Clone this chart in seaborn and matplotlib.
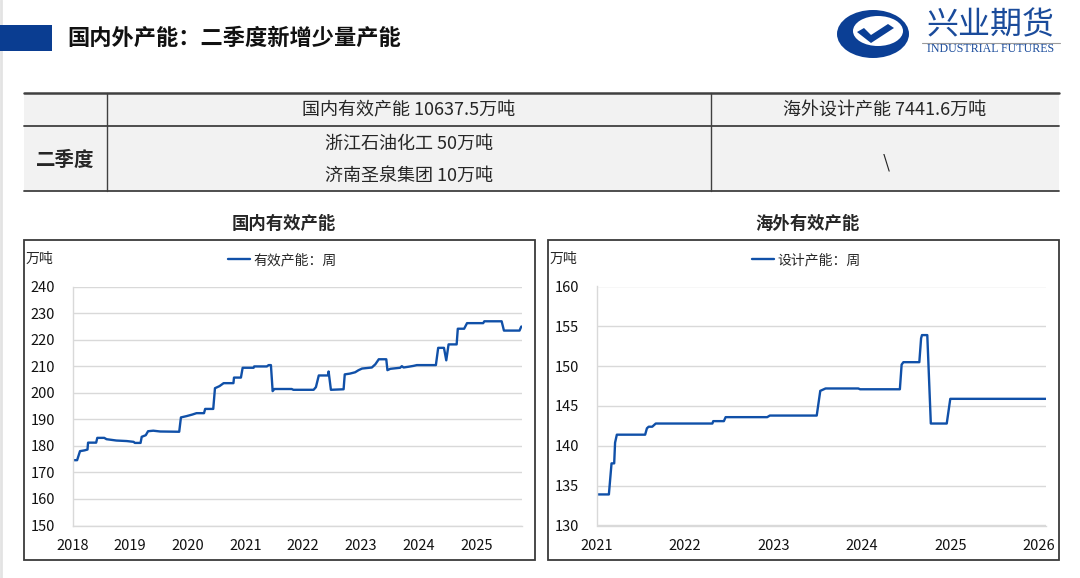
import matplotlib
matplotlib.use("Agg")
import numpy as np
import pandas as pd
import matplotlib.pyplot as plt
import seaborn as sns
from matplotlib.patches import Rectangle, Ellipse, Polygon
from matplotlib.lines import Line2D

# domestic effective capacity, weekly (万吨), x in decimal years
dom_t = [2018.00, 2018.08, 2018.13, 2018.21, 2018.26, 2018.27, 2018.41, 2018.43, 2018.55, 2018.59,
         2018.76, 2018.94, 2019.06, 2019.08, 2019.18, 2019.20, 2019.27, 2019.31, 2019.40, 2019.52,
         2019.85, 2019.88, 2019.98, 2020.08, 2020.15, 2020.28, 2020.30, 2020.44, 2020.47, 2020.55,
         2020.62, 2020.79, 2020.80, 2020.92, 2020.95, 2021.14, 2021.15, 2021.37, 2021.40, 2021.44,
         2021.47, 2021.50, 2021.80, 2021.83, 2022.18, 2022.22, 2022.27, 2022.43, 2022.44, 2022.48,
         2022.70, 2022.72, 2022.81, 2022.90, 2022.96, 2023.02, 2023.19, 2023.25, 2023.31, 2023.44,
         2023.46, 2023.51, 2023.68, 2023.71, 2023.74, 2023.83, 2023.91, 2023.97, 2024.30, 2024.34,
         2024.44, 2024.48, 2024.52, 2024.66, 2024.68, 2024.79, 2024.84, 2025.12, 2025.14, 2025.44,
         2025.48, 2025.75, 2025.78, 2025.80]
dom_v = [174.6, 174.6, 178.0, 178.3, 178.6, 181.2, 181.2, 183.0, 183.0, 182.5,
         182.0, 181.8, 181.5, 181.1, 181.1, 183.4, 184.0, 185.5, 185.7, 185.4,
         185.3, 190.7, 191.2, 191.8, 192.3, 192.3, 193.9, 193.9, 201.7, 202.5,
         203.6, 203.6, 205.7, 205.7, 209.4, 209.4, 209.9, 209.9, 210.4, 210.4,
         200.6, 201.4, 201.4, 201.1, 201.1, 202.1, 206.5, 206.5, 208.0, 201.1,
         201.3, 206.9, 207.2, 207.7, 208.5, 209.1, 209.5, 210.7, 212.6, 212.6,
         208.5, 209.0, 209.4, 210.0, 209.5, 209.8, 210.1, 210.4, 210.4, 216.9,
         216.9, 212.2, 218.2, 218.2, 224.1, 224.1, 226.2, 226.2, 226.9, 226.9,
         223.4, 223.4, 224.9, 224.9]

# overseas design capacity, weekly (万吨)
ovs_t = [2021.00, 2021.14, 2021.17, 2021.20, 2021.21, 2021.23, 2021.55, 2021.57, 2021.59, 2021.63,
         2021.67, 2022.31, 2022.32, 2022.44, 2022.46, 2022.93, 2022.96, 2023.49, 2023.53, 2023.59,
         2023.96, 2023.98, 2024.43, 2024.45, 2024.47, 2024.65, 2024.67, 2024.68, 2024.74, 2024.78,
         2024.96, 2025.00, 2026.08]
ovs_v = [133.9, 133.9, 137.8, 137.8, 140.4, 141.4, 141.4, 142.2, 142.4, 142.4,
         142.8, 142.8, 143.1, 143.1, 143.6, 143.6, 143.8, 143.8, 146.9, 147.2,
         147.2, 147.1, 147.1, 150.2, 150.5, 150.5, 153.5, 153.9, 153.9, 142.8,
         142.8, 145.9, 145.9]

dom_years = list(range(2018, 2026))
ovs_years = list(range(2021, 2027))
dom_yticks = list(range(150, 241, 10))
ovs_yticks = list(range(130, 161, 5))

sns.set_theme(style="white")
plt.rcParams['font.family'] = ['Noto Sans CJK SC', 'DejaVu Sans']

W, H = 1080, 578
BLUE = "#1050a8"
GRID = "#d9d9d9"

def fx(x):
    return x / W

def fy(y):
    return 1 - y / H

fig = plt.figure(figsize=(W / 100, H / 100), dpi=100)
fig.patch.set_facecolor("white")

# page border on the left
fig.add_artist(Line2D([fx(1), fx(1)], [0, 1], color="#e3e3e3", lw=2))

# heading
fig.add_artist(Rectangle((0, fy(50.7)), fx(51.7), (50.7 - 25) / H, color="#0a3d91", lw=0,
                         zorder=5))
fig.text(fx(67), fy(38.5), "国内外产能：二季度新增少量产能", fontsize=16, fontweight="bold",
         ha="left", va="center", color="#111111")

# logo
fig.add_artist(Ellipse((fx(873), fy(34)), 72 / W, 48 / H, color="#0b3f95", lw=0))
fig.add_artist(Ellipse((fx(878), fy(31)), 50 / W, 30 / H, color="white", lw=0))
fig.add_artist(Polygon([(fx(857), fy(32)), (fx(871), fy(43)), (fx(894), fy(28)),
                        (fx(888), fy(24)), (fx(871), fy(35)), (fx(864), fy(28))],
                       closed=True, color="#0b3f95", lw=0))
fig.text(fx(991), fy(25), "兴业期货", fontsize=23, ha="center", va="center", color="#1a4b9b")
fig.add_artist(Line2D([fx(922), fx(1060)], [fy(43), fy(43)], color="#9a9a9a", lw=0.8))
fig.text(fx(991), fy(49.5), "INDUSTRIAL FUTURES", fontsize=8.6, family="Liberation Serif",
         ha="center", va="center", color="#1a4b9b")

# table
fig.add_artist(Rectangle((fx(24), fy(191)), (1058.5 - 24) / W, (191 - 93.3) / H,
                         color="#f2f2f2", lw=0))
for yy, lw in [(93.3, 1.8), (126, 1.3), (191, 1.3)]:
    fig.add_artist(Line2D([fx(24), fx(1058.5)], [fy(yy), fy(yy)], color="#404040", lw=lw))
for xx in [107, 711]:
    fig.add_artist(Line2D([fx(xx), fx(xx)], [fy(93.3), fy(191)], color="#404040", lw=1))
fig.text(fx(409), fy(110), "国内有效产能 10637.5万吨", fontsize=13, ha="center", va="center")
fig.text(fx(885), fy(110), "海外设计产能 7441.6万吨", fontsize=13, ha="center", va="center")
fig.text(fx(65), fy(160), "二季度", fontsize=14, fontweight="bold", ha="center", va="center")
fig.text(fx(409), fy(144), "浙江石油化工 50万吨", fontsize=13, ha="center", va="center")
fig.text(fx(409), fy(176), "济南圣泉集团 10万吨", fontsize=13, ha="center", va="center")
fig.text(fx(886), fy(162), "\\", fontsize=13, ha="center", va="center")


def panel(x0, x1, ax_l, ax_r, title, tx, t, v, label, xlim, years, yticks, leg_x):
    # outer frame
    fig.add_artist(Rectangle((fx(x0), fy(560)), (x1 - x0) / W, (560 - 240.3) / H,
                             fill=False, edgecolor="#3a3a3a", lw=1.3))
    fig.text(fx(tx), fy(224), title, fontsize=12.5, fontweight="bold", ha="center", va="center")
    fig.text(fx(x0 + 2), fy(258.5), "万吨", fontsize=10, ha="left", va="center")

    ax = fig.add_axes([fx(ax_l), fy(525.5), (ax_r - ax_l) / W, (525.5 - 286.5) / H])
    df = pd.DataFrame({"t": t, "v": v})
    sns.lineplot(data=df, x="t", y="v", ax=ax, color=BLUE, lw=1.7, estimator=None,
                 sort=False, label=label)
    ax.set_xlim(*xlim)
    ax.set_ylim(yticks[0], yticks[-1])
    ax.set_xticks(years)
    ax.set_xticklabels([str(y) for y in years])
    ax.set_yticks(yticks)
    ax.set_xlabel("")
    ax.set_ylabel("")
    ax.grid(axis="y", color=GRID, lw=1)
    ax.set_axisbelow(True)
    for s in ["top", "right"]:
        ax.spines[s].set_visible(False)
    for s in ["left", "bottom"]:
        ax.spines[s].set_color(GRID)
        ax.spines[s].set_linewidth(1)
    ax.tick_params(axis="y", length=0, pad=12.5, labelsize=10.5, labelcolor="#111111")
    ax.tick_params(axis="x", length=0, pad=10, labelsize=10.5, labelcolor="#111111")
    ax.legend(loc="center left", bbox_to_anchor=(fx(leg_x), fy(260)),
              bbox_transform=fig.transFigure, frameon=False, borderpad=0,
              borderaxespad=0, handlelength=1.6, handletextpad=0.2, fontsize=10)
    return ax


panel(23.5, 534.8, 72.5, 522.4, "国内有效产能", 284, dom_t, dom_v, "有效产能：周",
      (2018, 2025.80), dom_years, dom_yticks, 228)
panel(547.5, 1058.9, 596.5, 1045.8, "海外有效产能", 807.5, ovs_t, ovs_v, "设计产能：周",
      (2021, 2026.08), ovs_years, ovs_yticks, 752)

fig.savefig("out.png", dpi=100, facecolor="white")
